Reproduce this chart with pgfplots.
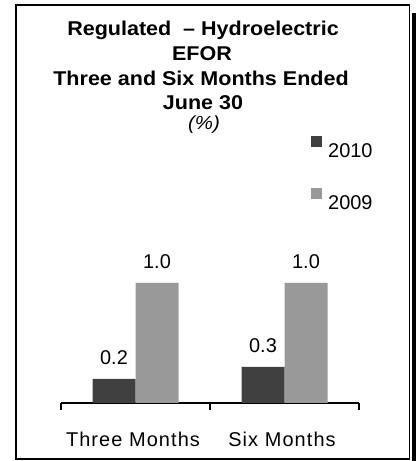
\documentclass[border=0pt]{standalone}
\usepackage{fontspec}
\setmainfont{Liberation Sans}
\usepackage{pgfplots}
\pgfplotsset{compat=1.18}
\definecolor{darkbar}{RGB}{64,64,64}
\definecolor{lightbar}{RGB}{153,153,153}
\begin{document}
\begin{tikzpicture}[x=1bp,y=1bp]
\useasboundingbox (0,0) rectangle (416,461);
\fill[black] (412,0) rectangle (416,448);
\draw[line width=1.8bp] (16,456) rectangle (409.5,1.8);
\begin{scope}[every node/.style={anchor=base, xscale=1.08, inner sep=0pt}]
\node[font=\bfseries\fontsize{20}{24}\selectfont] at (203,425) {Regulated \ -- Hydroelectric};
\node[font=\bfseries\fontsize{20}{24}\selectfont] at (202,400.5) {EFOR};
\node[font=\bfseries\fontsize{20}{24}\selectfont] at (201,375.5) {Three and Six Months Ended};
\node[font=\bfseries\fontsize{20}{24}\selectfont] at (203,351) {June 30};
\node[font=\itshape\fontsize{19}{22}\selectfont] at (204,331) {(\%)};
\end{scope}
\begin{axis}[
  at={(61bp,58bp)}, anchor=south west, scale only axis,
  width=298bp, height=180bp,
  xmin=-0.5, xmax=1.5, ymin=0, ymax=1.5,
  /pgf/number format/assume math mode=true,
  axis x line*=bottom, hide y axis,
  x axis line style={line width=1.8bp, -},
  ybar=0pt, bar width=43bp,
  xtick={0,1}, xticklabels={Three Months, Six Months},
  major tick length=0pt,
  minor xtick={-0.5,0.5,1.5}, minor tick length=7bp,
  tick align=outside,
  every tick/.style={line width=1.6bp, black},
  xticklabel style={anchor=base, yshift=-44bp, xshift=-2.5bp, inner sep=0pt,
    font=\addfontfeature{LetterSpace=5.5}\fontsize{20}{24}\selectfont},
  nodes near coords={\pgfmathprintnumber[fixed,fixed zerofill,precision=1]{\pgfplotspointmeta}},
  nodes near coords style={anchor=base, yshift=14.5bp, inner sep=0pt, font=\fontsize{20}{24}\selectfont, text=black},
  clip=false,
  legend image code/.code={\fill[#1] (0bp,3bp) rectangle (11bp,14bp);},
  legend cell align=left,
  legend style={draw=none, fill=none, inner sep=0pt,
    at={(rel axis cs:0.8389,1.2778)}, anchor=west,
    row sep=31bp, column sep=6bp,
    font=\fontsize{20}{24}\selectfont,
    nodes={inner sep=0pt, text height=14bp, text depth=0pt}},
]
\addplot[fill=darkbar, draw=none] coordinates {(0,0.2) (1,0.3)};
\addplot[fill=lightbar, draw=none] coordinates {(0,1.0) (1,1.0)};
\legend{2010,2009}
\end{axis}
\end{tikzpicture}
\end{document}
